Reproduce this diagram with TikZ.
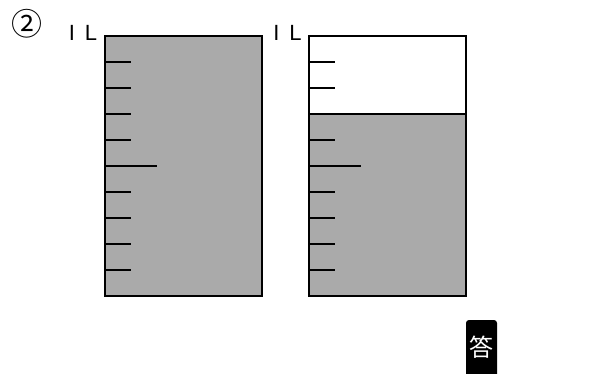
\documentclass[tikz,border=0pt]{standalone}
\usepackage{fontspec}
\setmainfont{Liberation Sans}
\newfontfamily\cjk{Noto Sans CJK JP}
\definecolor{water}{HTML}{AAAAAA}
\begin{document}
\begin{tikzpicture}[x=1pt,y=-1pt,
  wall/.style={line width=2.2pt},
  tick/.style={line width=1.8pt},
  lbl/.style={inner sep=0pt,font=\fontsize{22}{22}\selectfont}]
\useasboundingbox (0,0) rectangle (589,374);
% number
\node[inner sep=0pt,font=\cjk\fontsize{31}{31}\selectfont] (num) at (27.5,24) {②};
% labels
\node[lbl,anchor=base] (l1) at (83,41) {I\hspace{10pt}L};
\node[lbl,anchor=base] (l2) at (287.5,41) {I\hspace{10pt}L};
% left container
\fill[water] (105,36) rectangle (262,296);
\draw[wall] (105,36) rectangle (262,296);
\foreach \y in {62,88,114,140,192,218,244,270} \draw[tick] (105,\y) -- (131,\y);
\draw[tick] (105,166) -- (157,166);
% right container
\fill[water] (309,114) rectangle (466,296);
\draw[wall] (309,36) rectangle (466,296);
\draw[wall] (309,114) -- (466,114);
\foreach \y in {62,88,140,192,218,244,270} \draw[tick] (309,\y) -- (335,\y);
\draw[tick] (309,166) -- (361,166);
% answer box
\fill[black,rounded corners=3pt] (466,320) -- (497,320) -- (497,380) -- (466,380) -- cycle;
\node[text=white,inner sep=0pt,font=\cjk\fontsize{24}{24}\selectfont] (ans) at (481.5,347) {答};
\end{tikzpicture}
\end{document}
